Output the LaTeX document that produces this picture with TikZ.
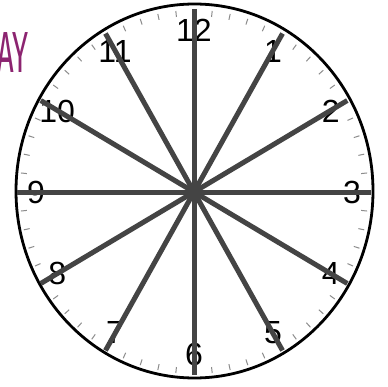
\documentclass[tikz,border=0pt]{standalone}
\usepackage{fontspec}
\setmainfont{Liberation Sans}
\newfontfamily\bannerfont{Fira Sans}
\definecolor{handgray}{RGB}{68,68,68}
\definecolor{plum}{RGB}{140,36,112}

\begin{document}
\begin{tikzpicture}[x=1pt,y=-1pt,
  rim/.style={line width=2.8pt, black},
  hand/.style={line width=5pt, handgray},
  minutetick/.style={line width=1pt, black!45},
  hourlabel/.style={font=\fontsize{32}{36}\selectfont, inner sep=0pt}]
\useasboundingbox (0,0) rectangle (387,387);
\coordinate (c) at (194,192);
% face
\draw[rim, fill=white] (194.5,191) ellipse [x radius=178.5, y radius=187];
\foreach \m in {0,...,59}
  \draw[minutetick] ([shift={(6*\m:168 and 176)}]c) -- ([shift={(6*\m:174 and 182)}]c);
% numbers
\foreach \h in {1,...,12}
  \node[hourlabel] (n\h) at ([shift={(30*\h-90:158 and 162)}]c) {\h};
% hands
\foreach \h in {1,...,12}
  \draw[hand] (c) -- ([shift={(30*\h-90:177 and 183)}]c);
% cut off title
\node[anchor=east, text=plum, inner sep=0pt, xscale=0.5,
  font=\bannerfont\fontsize{58}{60}\selectfont] (title) at (29,53) {AY};
\end{tikzpicture}
\end{document}
